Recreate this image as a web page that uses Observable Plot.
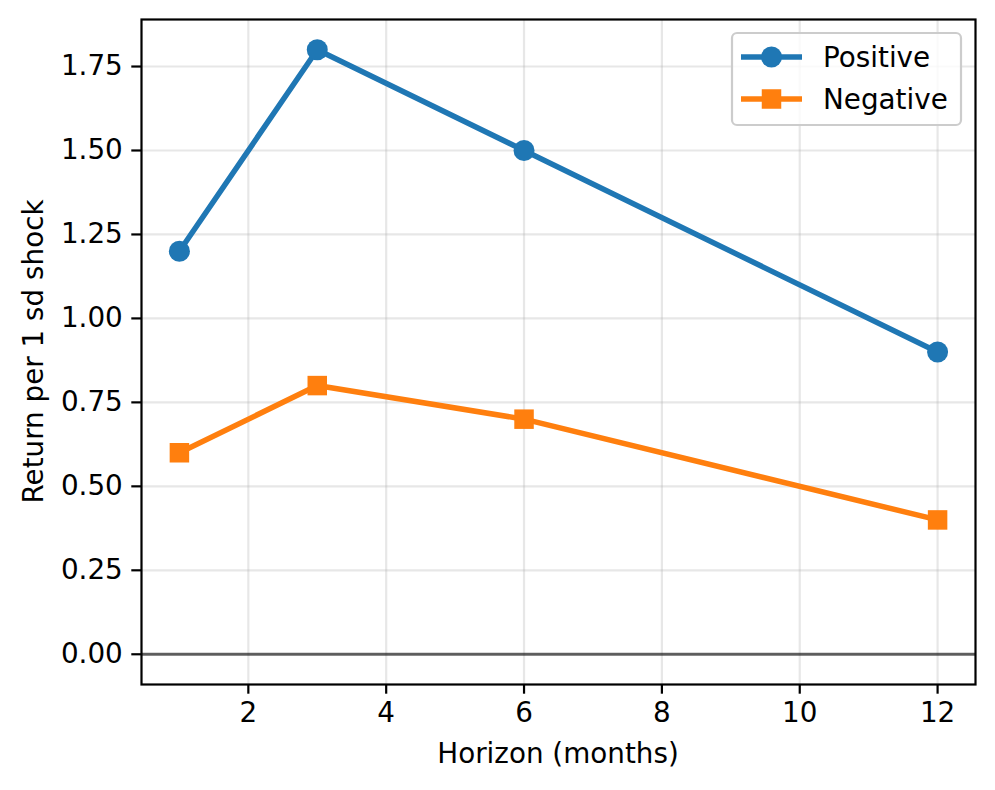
<!DOCTYPE html>
<html>
<head>
<meta charset="utf-8">
<script src="https://cdn.jsdelivr.net/npm/d3@7"></script>
<script src="https://cdn.jsdelivr.net/npm/@observablehq/plot@0.6"></script>
<style>
  html, body { margin: 0; padding: 0; background: #fff; }
  #chart { width: 995px; height: 790px; }
</style>
</head>
<body>
<div id="chart"></div>
<script>
const horizons = [1, 3, 6, 12];
const positive = [1.2, 1.8, 1.5, 0.9];
const negative = [0.6, 0.8, 0.7, 0.4];
const xTicks = [2, 4, 6, 8, 10, 12];
const yTicks = [0, 0.25, 0.5, 0.75, 1.0, 1.25, 1.5, 1.75];
const seriesNames = ["Positive", "Negative"];
const seriesColors = ["#1f77b4", "#ff7f0e"];
const seriesSymbols = ["circle", "square"];

const posData = horizons.map((h, i) => ({h, v: positive[i]}));
const negData = horizons.map((h, i) => ({h, v: negative[i]}));

const FS = 27.8;
const LW = 5.5;
const RC = 10.5;   // circle radius
const SQ = 19.5;   // square side
const RS = SQ / Math.sqrt(Math.PI);

const plot = Plot.plot({
  width: 995,
  height: 790,
  marginLeft: 141,
  marginRight: 20,
  marginTop: 19,
  marginBottom: 106,
  style: {fontFamily: "DejaVu Sans", fontSize: FS + "px", color: "#000", background: "#fff"},
  x: {domain: [0.45, 12.55], label: null},
  y: {domain: [-0.09, 1.89], label: null},
  marks: [
    Plot.gridX(xTicks, {stroke: "#b0b0b0", strokeOpacity: 0.3, strokeWidth: 2.2}),
    Plot.gridY(yTicks, {stroke: "#b0b0b0", strokeOpacity: 0.3, strokeWidth: 2.2}),
    Plot.ruleY([0], {stroke: "#000", strokeOpacity: 0.6, strokeWidth: 2.8}),
    Plot.line(posData, {x: "h", y: "v", stroke: seriesColors[0], strokeWidth: LW}),
    Plot.dot(posData, {x: "h", y: "v", fill: seriesColors[0], r: RC, symbol: seriesSymbols[0]}),
    Plot.line(negData, {x: "h", y: "v", stroke: seriesColors[1], strokeWidth: LW}),
    Plot.dot(negData, {x: "h", y: "v", fill: seriesColors[1], r: RS, symbol: seriesSymbols[1]}),
    Plot.frame({stroke: "#000", strokeWidth: 2.2}),
    Plot.axisX(xTicks, {tickSize: 9.7, tickPadding: 8, strokeWidth: 2.2, fontSize: FS, label: null}),
    Plot.axisY(yTicks, {tickSize: 9.7, tickPadding: 9, strokeWidth: 2.2, fontSize: FS, tickFormat: d3.format(".2f"), label: null})
  ]
});

document.getElementById("chart").appendChild(plot);

const svg = d3.select(plot);
function styleText(sel, anchor) {
  return sel.attr("text-anchor", anchor)
    .style("font-family", "DejaVu Sans").style("font-size", FS + "px").style("fill", "#000");
}
// axis titles
styleText(svg.append("text")
  .attr("x", (141 + 975) / 2).attr("y", 753).attr("dy", "0.35em"), "middle")
  .text("Horizon (months)");
styleText(svg.append("text")
  .attr("transform", `translate(33, ${(19 + 684) / 2}) rotate(-90)`).attr("dy", "0.35em"), "middle")
  .text("Return per 1 sd shock");

// legend
const lg = svg.append("g");
lg.append("rect")
  .attr("x", 732).attr("y", 33).attr("width", 229).attr("height", 92)
  .attr("rx", 5).attr("ry", 5)
  .attr("fill", "#fff").attr("fill-opacity", 0.8)
  .attr("stroke", "#cccccc").attr("stroke-width", 2.2);
seriesNames.forEach((name, i) => {
  const cy = 57 + i * 42;
  lg.append("line").attr("x1", 741).attr("x2", 802).attr("y1", cy).attr("y2", cy)
    .attr("stroke", seriesColors[i]).attr("stroke-width", LW);
  if (seriesSymbols[i] === "circle") {
    lg.append("circle").attr("cx", 771.5).attr("cy", cy).attr("r", RC).attr("fill", seriesColors[i]);
  } else {
    lg.append("rect").attr("x", 771.5 - SQ / 2).attr("y", cy - SQ / 2).attr("width", SQ).attr("height", SQ).attr("fill", seriesColors[i]);
  }
  styleText(lg.append("text").attr("x", 823).attr("y", cy).attr("dy", "0.35em"), "start")
    .text(name);
});
</script>
</body>
</html>
